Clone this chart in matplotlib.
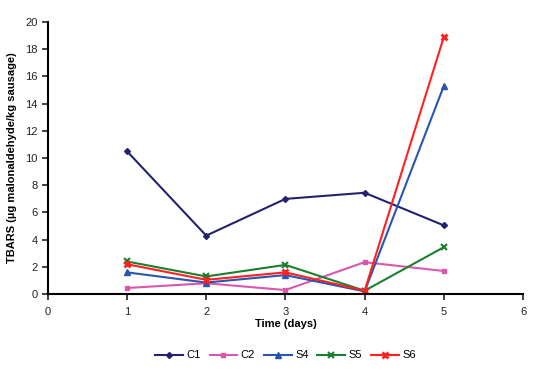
import matplotlib
matplotlib.use("Agg")
import matplotlib.pyplot as plt

plt.rcParams['font.family'] = ['Liberation Sans', 'DejaVu Sans']

days = [1, 2, 3, 4, 5]
c1 = [10.5, 4.3, 7.0, 7.45, 5.05]
c2 = [0.45, 0.8, 0.3, 2.35, 1.7]
s4 = [1.6, 0.85, 1.4, 0.2, 15.3]
s5 = [2.4, 1.3, 2.15, 0.25, 3.45]
s6 = [2.2, 1.05, 1.6, 0.25, 18.9]

fig = plt.figure(figsize=(5.37, 3.86), dpi=100)
ax = fig.add_axes([0.089, 0.238, 0.885, 0.705])

ax.plot(days, c1, color='#22226e', marker='D', ms=3, lw=1.5, label='C1')
ax.plot(days, c2, color='#d957ac', marker='s', ms=3.5, lw=1.5, label='C2')
ax.plot(days, s4, color='#2a55b0', marker='^', ms=4, lw=1.5, label='S4')
ax.plot(days, s5, color='#1a8030', marker='x', ms=4, mew=1.5, lw=1.5, label='S5')
ax.plot(days, s6, color='#ff2020', marker='x', ms=4, mew=2, lw=1.5, label='S6')

ax.set_xlim(0, 6)
ax.set_ylim(0, 20)
ax.set_xticks(range(0, 7))
ax.set_yticks(range(0, 21, 2))
ax.spines['top'].set_visible(False)
ax.spines['right'].set_visible(False)
ax.spines['left'].set_linewidth(1.5)
ax.spines['bottom'].set_linewidth(1.5)
ax.tick_params(direction='out', length=4, width=1.2, labelsize=8, colors='#222222')
ax.tick_params(axis='x', pad=5)
ax.set_xlabel('Time (days)', fontsize=8, fontweight='bold', labelpad=2)
ax.set_ylabel('TBARS (µg malonaldehyde/kg sausage)', fontsize=8, fontweight='bold', labelpad=6)

ax.legend(loc='upper center', bbox_to_anchor=(0.5, -0.17), ncol=5, frameon=False,
          fontsize=8, handlelength=2.5, columnspacing=0.8, handletextpad=0.3)

fig.savefig('out.png', dpi=100)
